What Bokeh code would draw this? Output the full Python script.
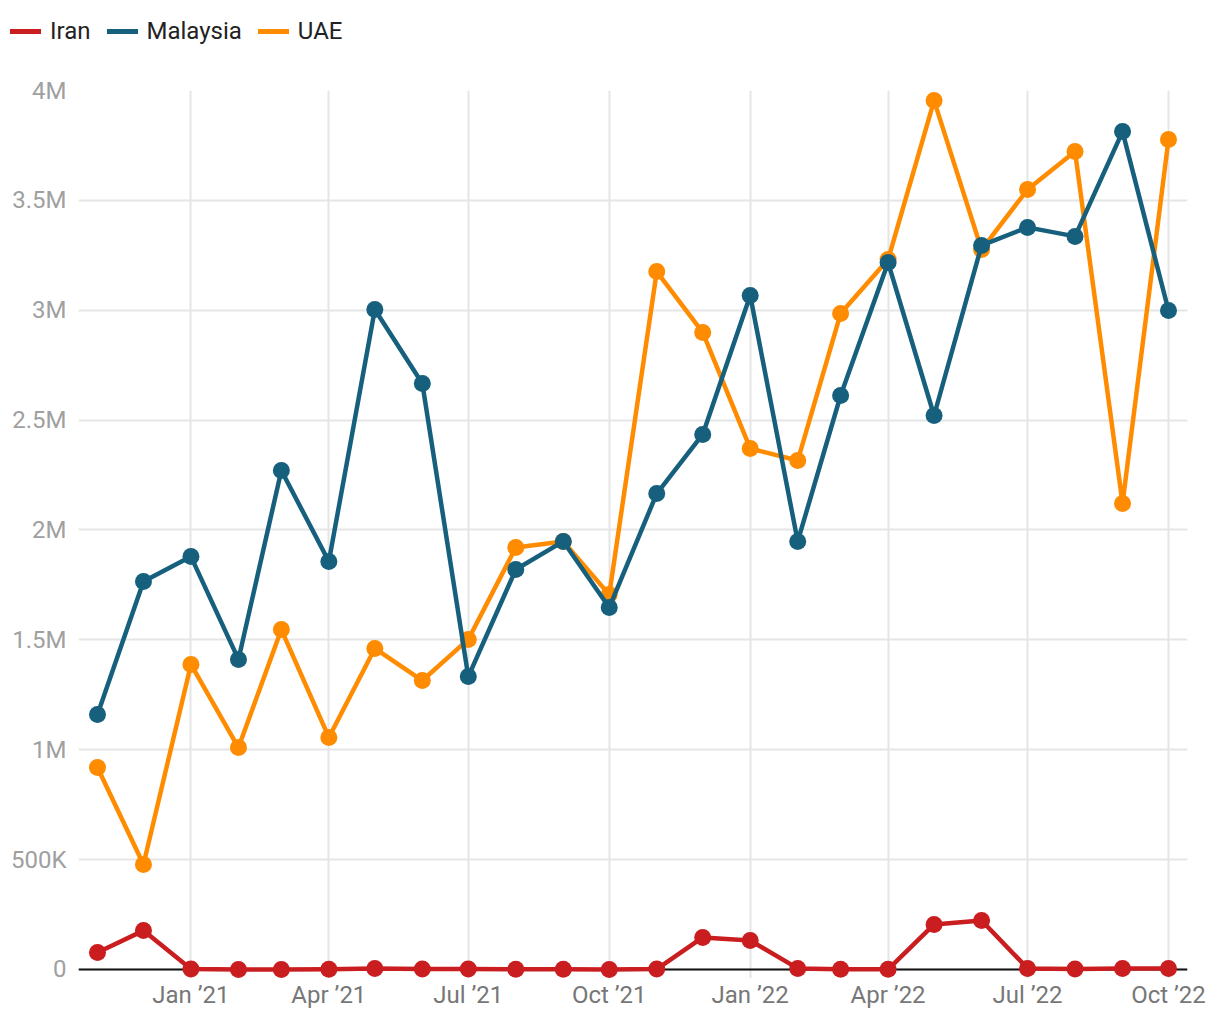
import pandas as pd
from bokeh.plotting import figure
from bokeh.layouts import column
from bokeh.models import (Legend, LegendItem, FixedTicker, DatetimeTickFormatter,
                          Span, Range1d)
from bokeh.embed import file_html
from bokeh.resources import INLINE

months = pd.date_range("2020-11-01", "2022-10-01", freq="MS")

iran = [77e3, 177e3, 2e3, 0, 0, 1e3, 5e3, 2e3, 2e3, 1e3, 1e3, 0, 2e3,
        146e3, 132e3, 5e3, 1e3, 1e3, 205e3, 223e3, 5e3, 2e3, 5e3, 5e3]
malaysia = [1.160e6, 1.766e6, 1.879e6, 1.411e6, 2.271e6, 1.857e6, 3.003e6, 2.667e6,
            1.333e6, 1.820e6, 1.948e6, 1.647e6, 2.166e6, 2.435e6, 3.067e6, 1.948e6,
            2.612e6, 3.217e6, 2.521e6, 3.295e6, 3.377e6, 3.336e6, 3.813e6, 2.999e6]
uae = [0.919e6, 0.478e6, 1.388e6, 1.010e6, 1.547e6, 1.056e6, 1.461e6, 1.315e6,
       1.502e6, 1.920e6, 1.948e6, 1.706e6, 3.176e6, 2.899e6, 2.371e6, 2.316e6,
       2.985e6, 3.231e6, 3.954e6, 3.276e6, 3.549e6, 3.722e6, 2.121e6, 3.777e6]

y_ticks = [0, 500e3, 1e6, 1.5e6, 2e6, 2.5e6, 3e6, 3.5e6, 4e6]
y_tick_labels = ["0", "500K", "1M", "1.5M", "2M", "2.5M", "3M", "3.5M", "4M"]
x_ticks = ["2021-01-01", "2021-04-01", "2021-07-01", "2021-10-01",
           "2022-01-01", "2022-04-01", "2022-07-01", "2022-10-01"]
series_names = ["Iran", "Malaysia", "UAE"]

COLORS = {"Iran": "#c91d20", "Malaysia": "#17607d", "UAE": "#ff8c00"}
FONT = "Roboto"
FS = "24px"
W = 1212
LEG_H = 60

pad = pd.Timedelta(days=12.4)
x_start = months[0] - pad
x_end = months[-1] + pad

# ---- legend strip ----
lg = figure(width=W, height=LEG_H, output_backend="svg", toolbar_location=None,
            x_range=Range1d(0, 1), y_range=Range1d(0, 1),
            min_border=0, x_axis_location=None, y_axis_location=None)
lg.frame_align = False
lg.outline_line_color = None
lg.xgrid.visible = False
lg.ygrid.visible = False
leg_items = []
for name in series_names:
    # legend-only renderer: data lies outside the visible range
    r = lg.line(x=[-5, -4], y=[-5, -5], line_color=COLORS[name], line_width=5,
                line_cap="round")
    leg_items.append(LegendItem(label=name, renderers=[r]))
legend = Legend(items=leg_items, orientation="horizontal", location=(10, 15),
                label_text_font=FONT, label_text_font_size=FS,
                label_text_color="#222222", glyph_width=31, glyph_height=20,
                label_standoff=9, spacing=16, padding=0, margin=0,
                border_line_color=None, background_fill_alpha=0)
lg.add_layout(legend)

# ---- main chart ----
p = figure(width=W, height=1012 - LEG_H, x_axis_type="datetime",
           output_backend="svg", toolbar_location=None,
           x_range=Range1d(x_start, x_end), y_range=Range1d(-0.041e6, 4e6),
           min_border_left=78, min_border_right=W - 1187,
           min_border_top=90 - LEG_H, min_border_bottom=34)
p.frame_align = False
p.outline_line_color = None
p.background_fill_color = "white"
p.border_fill_color = "white"

tick_ms = [pd.Timestamp(t).value / 1e6 for t in x_ticks]
p.xaxis.ticker = FixedTicker(ticks=tick_ms)
p.xaxis.formatter = DatetimeTickFormatter(months="%b \u2019%y", days="%b \u2019%y",
                                          years="%b \u2019%y")
p.yaxis.ticker = FixedTicker(ticks=y_ticks)
p.yaxis.major_label_overrides = {t: l for t, l in zip(y_ticks, y_tick_labels)}
for ax in (p.xaxis, p.yaxis):
    ax.axis_line_color = None
    ax.major_tick_line_color = None
    ax.minor_tick_line_color = None
    ax.major_tick_out = 0
    ax.major_tick_in = 0
    ax.minor_tick_out = 0
    ax.minor_tick_in = 0
    ax.major_label_text_font = FONT
    ax.major_label_text_font_size = FS
p.xaxis.major_label_text_color = "#777777"
p.yaxis.major_label_text_color = "#a0a0a0"
p.xaxis.major_label_standoff = 2
p.yaxis.major_label_standoff = 12

p.xgrid.grid_line_color = "#e5e5e5"
p.xgrid.grid_line_width = 2
p.xgrid.bounds = (0, 4e6)
p.ygrid.grid_line_color = "#e5e5e5"
p.ygrid.grid_line_width = 2

zero = Span(location=0, dimension="width", line_color="#111111", line_width=2,
            level="underlay")
p.add_layout(zero)

data = {"Iran": iran, "Malaysia": malaysia, "UAE": uae}
for name in ("UAE", "Malaysia", "Iran"):
    c = COLORS[name]
    vals = data[name]
    p.line(months, vals, line_color=c, line_width=4.5, line_join="round",
           line_cap="round")
    p.scatter(months, vals, size=17, fill_color=c, line_color=c, line_width=0)

layout = column(lg, p, spacing=0)
open("out.html", "w").write(file_html(layout, INLINE))
